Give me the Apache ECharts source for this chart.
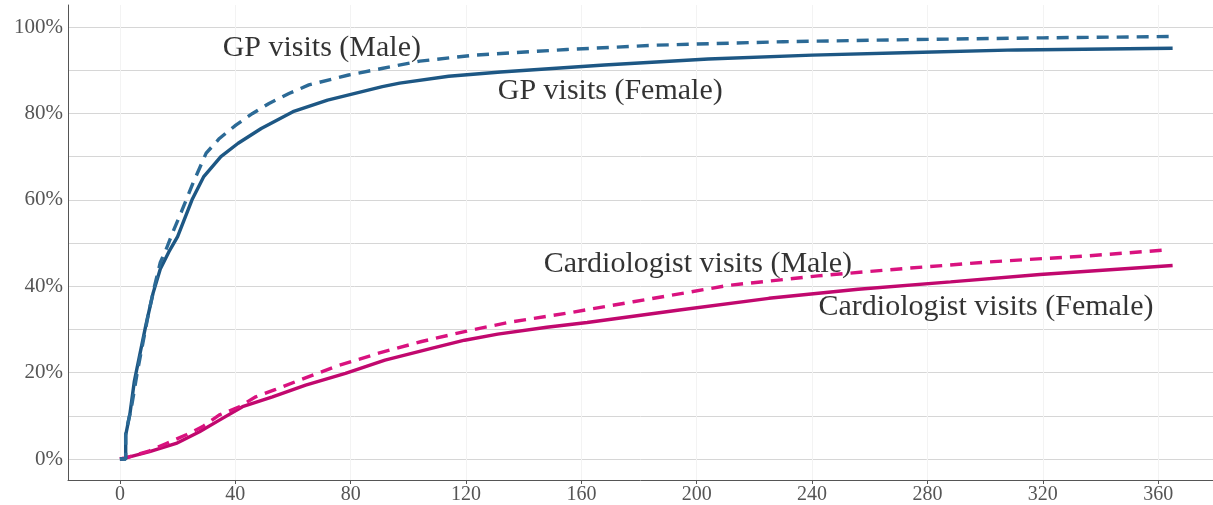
<!DOCTYPE html>
<html>
<head>
<meta charset="utf-8">
<script src="https://cdn.jsdelivr.net/npm/echarts@6/dist/echarts.min.js"></script>
<style>
  html, body { margin: 0; padding: 0; background: #fff; }
  #chart { width: 1213px; height: 505px; }
</style>
</head>
<body>
<div id="chart"></div>
<script>
// days since index and cumulative share (%) with at least one visit
const gpFemaleDays = [0, 2, 2, 3.5, 5, 7, 9, 11.5, 14, 17, 20, 25, 29, 35, 41, 49, 60, 72, 91, 97, 114, 132, 168, 204, 240, 275, 311, 365]
const gpFemale = [0, 0, 5.5, 10.6, 18, 24.5, 31, 38.4, 44, 48, 51.5, 60, 65.3, 70, 73.1, 76.5, 80.4, 83.1, 86.2, 87, 88.6, 89.6, 91.2, 92.6, 93.5, 94.1, 94.7, 95.1]

const gpMaleDays = [0, 2, 2, 4, 6, 8, 10, 12, 14, 16, 18.4, 21.3, 25.3, 29.9, 34.5, 40.2, 46, 51.7, 58.6, 65.5, 79.3, 90.8, 104, 123, 155, 186, 230, 275, 320, 364]
const gpMale = [0, 0, 6, 12, 20, 27, 34, 40, 45.5, 48.5, 52.6, 57.2, 63.8, 70.8, 74.2, 77.3, 80, 82.3, 84.6, 86.6, 88.9, 90.4, 92.1, 93.5, 94.8, 95.8, 96.6, 97.1, 97.5, 97.8]

const cardioFemaleDays = [0, 1.7, 10.3, 19.5, 27.6, 34.5, 42.5, 52.9, 64.4, 78.2, 91.9, 108, 119.5, 131, 148, 162, 194, 225, 256, 288, 319, 365]
const cardioFemale = [0, 0.2, 1.7, 3.6, 6.3, 9, 12.1, 14.4, 17.1, 19.8, 22.9, 25.6, 27.5, 28.9, 30.5, 31.6, 34.5, 37.2, 39.3, 41, 42.7, 44.8]

const cardioMaleDays = [0, 1.7, 10, 16.1, 23, 28.7, 34.5, 41.4, 47.1, 54, 60.9, 74.7, 89.7, 104.6, 119.5, 134.5, 154.5, 178, 211, 242, 272, 303, 335, 363]
const cardioMale = [0, 0.2, 1.8, 3.6, 5.6, 7.5, 10.2, 12.1, 14.4, 16.1, 17.9, 21.4, 24.5, 27.2, 29.5, 31.6, 33.7, 36.4, 40.2, 42.4, 44.1, 45.7, 47, 48.4]

// direct labels: [day, %, text]
const curveLabels = [
  [70, 95.1, 'GP visits (Male)'],
  [170, 85.2, 'GP visits (Female)'],
  [200.4, 45.1, 'Cardiologist visits (Male)'],
  [300.3, 35.1, 'Cardiologist visits (Female)']
]

const xTicks = [0, 40, 80, 120, 160, 200, 240, 280, 320, 360]
const yGrid = [0, 10, 20, 30, 40, 50, 60, 70, 80, 90, 100]
const yTicks = [0, 20, 40, 60, 80, 100]

const zip = (xs, ys) => xs.map((x, i) => [x, ys[i]])

const tickFont = 'Liberation Serif'
const labelFont = 'Liberation Serif'

const chart = echarts.init(document.getElementById('chart'))

const lineSeries = (name, days, vals, color, dashed) => ({
  name,
  type: 'line',
  data: zip(days, vals),
  showSymbol: false,
  clip: false,
  lineStyle: {
    color,
    width: 3.4,
    type: dashed ? [12, 8] : 'solid'
  },
  z: 3
})

const option = {
  animation: false,
  backgroundColor: '#fff',
  grid: {
    left: 68,
    right: 0,
    top: 5,
    bottom: 25
  },
  xAxis: {
    type: 'value',
    min: -18,
    max: 379,
    axisLine: {
      show: true,
      onZero: false,
      lineStyle: { color: '#555', width: 1 }
    },
    axisTick: {
      show: true,
      length: 4,
      customValues: xTicks,
      lineStyle: { color: '#555' }
    },
    axisLabel: {
      customValues: xTicks,
      color: '#555',
      fontFamily: tickFont,
      fontSize: 20,
      margin: 5
    },
    splitLine: {
      show: true,
      lineStyle: { color: '#f3f3f3', width: 1 }
    }
  },
  yAxis: {
    type: 'value',
    min: -4.86,
    max: 105.1,
    axisLine: {
      show: true,
      onZero: false,
      lineStyle: { color: '#555', width: 1 }
    },
    axisTick: {
      show: false,
      customValues: yGrid
    },
    axisLabel: {
      customValues: yTicks,
      color: '#555',
      fontFamily: tickFont,
      fontSize: 21,
      margin: 5,
      formatter: v => v + '%'
    },
    splitLine: {
      show: true,
      lineStyle: { color: '#d6d6d6', width: 1 }
    }
  },
  series: [
    lineSeries('Cardiologist visits (Female)', cardioFemaleDays, cardioFemale, '#c1086e', false),
    lineSeries('Cardiologist visits (Male)', cardioMaleDays, cardioMale, '#d9127f', true),
    lineSeries('GP visits (Female)', gpFemaleDays, gpFemale, '#1d5784', false),
    lineSeries('GP visits (Male)', gpMaleDays, gpMale, '#2c6a96', true),
    {
      type: 'scatter',
      data: curveLabels,
      symbolSize: 1,
      itemStyle: { color: 'rgba(0,0,0,0)' },
      silent: true,
      z: 10,
      label: {
        show: true,
        position: 'inside',
        formatter: p => p.data[2],
        color: '#000',
        fontFamily: labelFont,
        fontSize: 30
      }
    }
  ]
}

chart.setOption(option)

window.addEventListener('resize', () => {
  chart.resize()
})
</script>
</body>
</html>
